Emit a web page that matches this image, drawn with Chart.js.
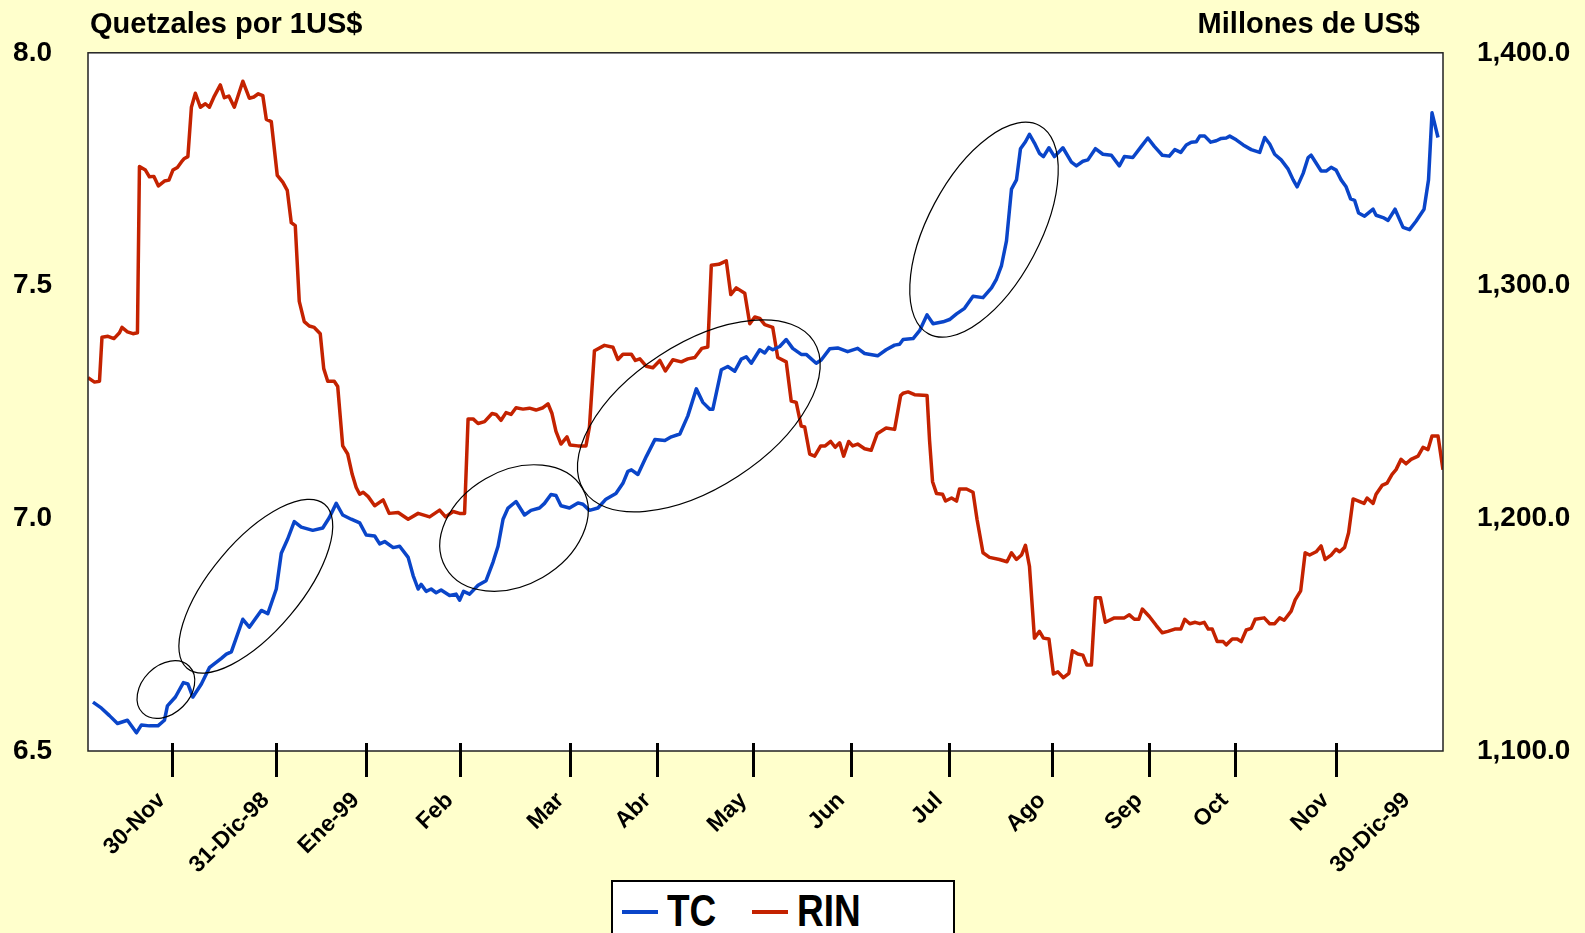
<!DOCTYPE html>
<html lang="es">
<head>
<meta charset="utf-8">
<title>TC y RIN</title>
<script src="https://cdn.jsdelivr.net/npm/chart.js@4.4.1/dist/chart.umd.min.js"></script>
<style>
  html, body { margin: 0; padding: 0; background: #FFFFCC; }
  #wrap { position: relative; width: 1585px; height: 933px; overflow: hidden; }
  #legend {
    position: absolute; left: 611px; top: 880px; width: 344px; height: 70px;
    box-sizing: border-box; background: #fff; border: 2px solid #000;
    font: bold 44px "Liberation Sans", Arial, sans-serif;
    line-height: 58px; color: #000;
  }
  #legend span { position: absolute; top: 0; transform: scaleX(0.84); transform-origin: left center; }
  #legend .swatch { top: 28px; height: 4px; width: 36px; transform: none; }
</style>
</head>
<body>
<div id="wrap">
  <canvas id="chart" width="1585" height="933"></canvas>
  <div id="legend">
    <span class="swatch" style="left:9px;background:#0A45C9"></span>
    <span style="left:54px">TC</span>
    <span class="swatch" style="left:139px;background:#C42200"></span>
    <span style="left:184px">RIN</span>
  </div>
</div>
<script>
// dias habiles desde inicio de nov-98 (eje x lineal)
const tcDays = [1.0, 2.7, 4.3, 5.9, 7.9, 9.7, 10.7, 12.3, 14.0, 15.3, 15.9, 17.5, 19.1, 20.0, 21.0, 22.7, 24.3, 26.7, 27.7, 28.7,
  31.0, 32.3, 33.3, 34.7, 36.0, 37.7, 38.7, 40.0, 41.3, 42.7, 45.0, 47.0, 48.3, 49.7, 51.0, 52.7, 54.4,
  55.7, 57.4, 58.4, 59.4, 61.1, 62.4, 64.1, 65.1, 66.1, 66.7, 67.7, 68.7, 69.7, 70.7, 72.4, 73.7, 74.4, 75.2, 76.4, 78.1,
  79.7, 81.1, 82.1, 83.1, 84.1, 85.7, 87.4, 88.7, 90.4, 91.4, 92.7, 93.7, 94.7, 96.4, 98.1, 99.1, 100.4, 102.1, 103.7,
  105.7, 107.1, 108.1, 108.8, 110.1, 111.8, 113.5, 115.5, 116.8, 118.5, 120.1, 121.8, 123.1, 124.5, 125.1, 126.8, 128.1,
  129.5, 130.8, 131.8, 132.8, 134.5, 135.5, 136.3, 137.1, 138.5, 139.8, 141.1, 142.8, 143.8, 145.8, 146.8, 148.5, 150.1,
  152.1, 154.1, 155.5, 158.1, 159.8, 161.5, 162.5, 163.2, 165.2, 166.5, 168.0, 169.2, 171.2, 172.5, 173.9, 175.5, 177.2,
  179.2, 180.9, 181.9, 182.9, 183.9, 184.9, 185.9, 186.7, 187.7, 188.5, 189.5, 190.5, 191.3, 192.4, 193.5, 195.2, 196.9,
  197.9, 199.2, 200.2, 201.7, 203.2, 204.9, 206.5, 207.5, 209.2, 210.9, 212.2, 213.5, 215.1, 216.5, 217.6, 218.8, 219.9,
  220.9, 221.9, 222.6, 223.6, 224.8, 225.9, 226.9, 227.9, 228.6, 229.9, 231.3, 232.9, 234.6, 235.6, 236.6, 237.6, 238.9,
  240.3, 241.3, 242.1, 243.3, 244.3, 244.9, 246.9, 247.9, 248.9, 249.9, 250.9, 251.9, 252.8, 253.6, 254.4, 255.6, 257.3,
  257.9, 259.3, 260.3, 261.7, 263.3, 264.6, 265.9, 267.5, 268.4, 269.1, 270.3];
const tcValues = [6.605, 6.592, 6.576, 6.559, 6.566, 6.539, 6.556, 6.554, 6.554, 6.566, 6.597, 6.616, 6.647, 6.644, 6.616, 6.644, 6.679, 6.699, 6.708, 6.713,
  6.783, 6.766, 6.781, 6.802, 6.795, 6.848, 6.925, 6.956, 6.993, 6.981, 6.974, 6.979, 7.001, 7.032, 7.007, 6.998, 6.990,
  6.964, 6.962, 6.945, 6.950, 6.937, 6.940, 6.916, 6.877, 6.848, 6.858, 6.843, 6.848, 6.840, 6.846, 6.834, 6.837, 6.824, 6.843, 6.837, 6.856,
  6.866, 6.906, 6.940, 6.998, 7.022, 7.036, 7.007, 7.017, 7.022, 7.032, 7.051, 7.049, 7.027, 7.022, 7.033, 7.030, 7.017, 7.022, 7.041,
  7.053, 7.075, 7.101, 7.104, 7.094, 7.133, 7.169, 7.167, 7.175, 7.181, 7.220, 7.278, 7.249, 7.234, 7.234, 7.319, 7.326,
  7.316, 7.342, 7.347, 7.333, 7.362, 7.355, 7.367, 7.362, 7.369, 7.384, 7.365, 7.352, 7.352, 7.333, 7.340, 7.364, 7.366,
  7.358, 7.365, 7.354, 7.349, 7.362, 7.372, 7.374, 7.384, 7.386, 7.403, 7.437, 7.418, 7.422, 7.427, 7.439, 7.451, 7.477,
  7.474, 7.495, 7.514, 7.543, 7.596, 7.707, 7.727, 7.794, 7.809, 7.825, 7.806, 7.784, 7.777, 7.796, 7.777, 7.796, 7.765,
  7.757, 7.767, 7.770, 7.794, 7.782, 7.780, 7.757, 7.777, 7.775, 7.799, 7.817, 7.799, 7.780, 7.778, 7.792, 7.786, 7.802,
  7.808, 7.809, 7.821, 7.821, 7.808, 7.811, 7.816, 7.817, 7.821, 7.813, 7.802, 7.792, 7.786, 7.818, 7.804, 7.782, 7.770,
  7.750, 7.727, 7.712, 7.741, 7.775, 7.780, 7.746, 7.746, 7.754, 7.748, 7.727, 7.712, 7.686, 7.683, 7.656, 7.649, 7.664,
  7.651, 7.646, 7.640, 7.664, 7.625, 7.620, 7.638, 7.664, 7.727, 7.871, 7.818];

const rinDays = [0, 1.3, 2.3, 2.8, 4.0, 5.2, 6.3, 6.8, 7.9, 9.0, 9.9, 10.3, 11.5, 12.3, 13.2, 14.1, 15.3, 16.2, 17.0, 17.9,
  18.7, 19.3, 20.0, 20.7, 21.5, 22.5, 23.5, 24.3, 25.3, 26.5, 27.3, 28.2, 29.3, 31.0, 32.3, 33.2, 34.1, 35.0, 35.7, 36.7,
  37.9, 39.0, 39.9, 40.7, 41.5, 42.3, 43.3, 44.3, 45.3, 46.5, 47.2, 48.0, 49.3, 50.0, 51.0, 52.0, 52.9, 53.7, 54.4,
  55.1, 56.1, 57.4, 59.1, 60.3, 62.1, 64.1, 66.1, 68.4, 70.4, 71.6, 73.1, 74.4, 75.4, 76.1, 77.1, 78.1, 79.4, 80.9, 81.7,
  82.7, 83.7, 84.7, 85.7, 87.1, 88.4, 89.7, 91.1, 92.1, 92.9, 93.7, 94.7, 95.9, 96.5, 98.1, 99.7, 100.4, 101.4, 103.4,
  105.1, 106.1, 107.1, 108.8, 109.6, 110.5, 111.8, 113.1, 114.5, 115.6, 117.1, 118.8, 120.1, 121.5, 122.9, 124.1, 124.8,
  126.3, 127.8, 128.7, 129.8, 131.5, 132.5, 133.5, 134.5, 135.5, 137.1, 138.1, 139.8, 140.8, 141.8, 142.8, 143.5, 144.5,
  145.5, 146.7, 147.6, 148.7, 149.6, 150.5, 151.3, 152.3, 153.1, 154.1, 155.5, 156.8, 158.0, 159.8, 161.5, 162.7, 163.2,
  164.2, 165.5, 168.0, 168.5, 169.1, 169.9, 171.1, 171.7, 172.9, 173.9, 174.5, 175.9, 177.2, 178.0, 179.2, 180.5, 182.5,
  184.0, 184.9, 185.9, 186.9, 187.7, 188.5, 189.5, 190.5, 191.3, 192.4, 193.3, 194.2, 195.3, 196.4, 197.1, 198.2, 199.2,
  200.0, 200.9, 201.7, 202.7, 203.7, 205.5, 207.5, 208.5, 209.5, 210.4, 211.1, 212.5, 213.9, 215.1, 216.2, 217.6, 218.8,
  219.6, 220.6, 221.7, 222.6, 223.5, 224.3, 225.1, 226.1, 227.3, 227.9, 229.1, 230.1, 230.9, 231.9, 232.9, 233.7, 235.5,
  236.6, 237.6, 238.6, 239.5, 240.9, 241.7, 242.8, 243.7, 244.6, 245.9, 246.9, 247.7, 248.9, 249.9, 250.6, 251.6, 252.4,
  253.3, 254.4, 255.5, 256.1, 257.3, 257.9, 259.1, 260.1, 261.1, 261.9, 262.9, 263.9, 264.9, 266.3, 267.3, 268.3, 269.1,
  270.3, 271.3];
const rinValues = [1260.4, 1258.5, 1258.9, 1277.8, 1278.2, 1277.2, 1279.7, 1282.0, 1280.1, 1279.3, 1279.7, 1351.1, 1349.6, 1346.7, 1346.9, 1342.8, 1344.9, 1345.3, 1349.6, 1350.7,
  1353.1, 1354.6, 1355.4, 1376.6, 1382.6, 1376.6, 1378.1, 1376.6, 1381.4, 1386.2, 1380.7, 1381.4, 1376.6, 1387.8, 1380.5, 1381.0, 1382.4, 1381.6, 1371.4, 1370.4,
  1347.3, 1344.4, 1340.9, 1327.0, 1325.7, 1293.2, 1284.5, 1282.6, 1282.0, 1279.3, 1264.3, 1258.9, 1258.9, 1256.6, 1231.1, 1227.6, 1218.9, 1213.2, 1210.3,
  1211.2, 1209.3, 1205.4, 1207.9, 1202.1, 1202.5, 1199.6, 1202.1, 1200.6, 1203.5, 1200.6, 1202.9, 1202.1, 1202.1, 1242.7, 1242.7, 1240.7, 1241.5, 1245.0, 1244.6,
  1242.1, 1245.4, 1244.6, 1247.5, 1246.9, 1247.3, 1246.5, 1247.5, 1249.2, 1245.0, 1237.3, 1231.9, 1235.0, 1231.5, 1231.1, 1231.1, 1239.2, 1272.0, 1274.3,
  1273.5, 1268.2, 1270.5, 1270.5, 1267.8, 1268.5, 1265.3, 1264.7, 1267.8, 1263.3, 1268.1, 1267.2, 1268.5, 1269.1, 1273.0, 1273.6, 1308.7,
  1309.1, 1310.6, 1296.1, 1299.0, 1296.7, 1283.6, 1286.5, 1285.9, 1283.2, 1282.0, 1269.1, 1267.2, 1250.4, 1249.8, 1239.6, 1239.2, 1227.6,
  1226.7, 1231.1, 1231.1, 1233.0, 1230.5, 1232.4, 1226.7, 1233.0, 1231.1, 1231.9, 1229.9, 1229.2, 1236.3, 1238.8, 1238.2, 1252.7, 1253.7,
  1254.3, 1253.1, 1252.7, 1233.4, 1215.7, 1210.6, 1210.3, 1207.4, 1208.7, 1207.4, 1212.6, 1212.6, 1211.2, 1199.6, 1185.2, 1183.2, 1182.3,
  1181.3, 1185.2, 1182.3, 1184.2, 1188.4, 1179.4, 1148.5, 1151.4, 1148.5, 1148.1, 1133.1, 1134.0, 1131.5, 1133.4, 1143.1, 1141.7, 1141.2,
  1136.9, 1136.9, 1165.9, 1165.9, 1155.3, 1157.2, 1157.2, 1158.5, 1156.6, 1156.6, 1161.0, 1157.8, 1153.9, 1150.8, 1151.4, 1152.4, 1152.4,
  1156.6, 1154.7, 1155.3, 1154.7, 1155.3, 1152.4, 1152.4, 1147.0, 1147.0, 1145.6, 1148.1, 1148.1, 1147.0, 1152.0, 1152.7, 1156.6, 1157.2,
  1154.7, 1154.7, 1157.2, 1156.2, 1160.1, 1164.9, 1168.8, 1185.2, 1184.2, 1185.6, 1188.1, 1182.3, 1184.2, 1186.7, 1185.6, 1187.5, 1193.8,
  1208.3, 1207.4, 1206.4, 1208.7, 1206.4, 1210.3, 1214.1, 1215.1, 1218.9, 1220.9, 1225.3, 1223.4, 1225.3, 1226.7, 1230.5, 1229.5, 1235.3,
  1235.3, 1220.9];

// eje x: posiciones de las etiquetas (la ultima no lleva marca)
const tickDays = [16.8, 37.6, 55.6, 74.4, 96.6, 114, 133.2, 152.8, 172.4, 193, 212.4, 229.6, 249.8, 266];
const tickLabels = ['30-Nov', '31-Dic-98', 'Ene-99', 'Feb', 'Mar', 'Abr', 'May', 'Jun', 'Jul', 'Ago', 'Sep', 'Oct', 'Nov', '30-Dic-99'];
const tickMarks = [true, true, true, true, true, true, true, true, true, true, true, true, true, false];

// elipses dibujadas a mano sobre la serie TC (centro en dia / quetzales)
const circled = [
  { day: 15.6, tc: 6.632, rx: 33, ry: 24, angle: -45 },
  { day: 33.6, tc: 6.854, rx: 107, ry: 45, angle: -50 },
  { day: 85.3, tc: 6.979, rx: 79, ry: 57, angle: -30 },
  { day: 122.3, tc: 7.220, rx: 137, ry: 72, angle: -33 },
  { day: 179.4, tc: 7.620, rx: 118, ry: 56, angle: -62 }
];

const FONT = '"Liberation Sans", Arial, sans-serif';

function toPoints(days, values) {
  return days.map((d, i) => ({ x: d, y: values[i] }));
}

const decorations = {
  id: 'decorations',
  beforeDraw(chart) {
    const { ctx, chartArea: a } = chart;
    ctx.save();
    ctx.fillStyle = '#FFFFCC';
    ctx.fillRect(0, 0, chart.width, chart.height);
    ctx.fillStyle = '#FFFFFF';
    ctx.fillRect(a.left, a.top, a.right - a.left, a.bottom - a.top);
    ctx.restore();
  },
  afterDatasetsDraw(chart) {
    const { ctx, chartArea: a, scales } = chart;
    ctx.save();
    // elipses
    ctx.strokeStyle = '#000';
    ctx.lineWidth = 1.2;
    circled.forEach(e => {
      ctx.beginPath();
      ctx.ellipse(scales.x.getPixelForValue(e.day), scales.y.getPixelForValue(e.tc),
        e.rx, e.ry, e.angle * Math.PI / 180, 0, Math.PI * 2);
      ctx.stroke();
    });
    // marco del area de graficado
    ctx.strokeStyle = '#222';
    ctx.lineWidth = 1.5;
    ctx.strokeRect(a.left, a.top, a.right - a.left, a.bottom - a.top);
    // marcas del eje x (cruzan el eje)
    ctx.lineWidth = 3;
    ctx.strokeStyle = '#000';
    tickDays.forEach((d, i) => {
      if (!tickMarks[i]) return;
      const x = Math.round(scales.x.getPixelForValue(d)) + 0.5;
      ctx.beginPath();
      ctx.moveTo(x, a.bottom - 8);
      ctx.lineTo(x, a.bottom + 26);
      ctx.stroke();
    });
    ctx.restore();
  },
  afterDraw(chart) {
    const { ctx, chartArea: a } = chart;
    ctx.save();
    ctx.fillStyle = '#000';
    ctx.font = 'bold 29px ' + FONT;
    ctx.textBaseline = 'alphabetic';
    ctx.textAlign = 'left';
    ctx.fillText('Quetzales por 1US$', a.left + 2, 33);
    ctx.textAlign = 'right';
    ctx.fillText('Millones de US$', a.right - 23, 33);
    ctx.restore();
  }
};

new Chart(document.getElementById('chart'), {
  type: 'line',
  data: {
    datasets: [
      { label: 'TC', data: toPoints(tcDays, tcValues), yAxisID: 'y', borderColor: '#0A45C9', borderWidth: 3.5 },
      { label: 'RIN', data: toPoints(rinDays, rinValues), yAxisID: 'y1', borderColor: '#C42200', borderWidth: 3.5 }
    ]
  },
  options: {
    responsive: false,
    animation: false,
    events: [],
    layout: { padding: { top: 48, left: 0, right: 0, bottom: 0 } },
    elements: { point: { radius: 0 }, line: { tension: 0, borderJoinStyle: 'round' } },
    plugins: { legend: { display: false }, tooltip: { enabled: false } },
    scales: {
      x: {
        type: 'linear',
        min: 0,
        max: 271.3,
        grid: { display: false, drawTicks: false },
        border: { display: false },
        afterBuildTicks: axis => { axis.ticks = tickDays.map(v => ({ value: v })); },
        afterFit: axis => { axis.height = 182; },
        ticks: {
          autoSkip: false,
          minRotation: 45,
          maxRotation: 45,
          padding: 36,
          labelOffset: -10,
          color: '#000',
          font: { family: FONT, size: 23, weight: 'bold' },
          callback: (value, index) => tickLabels[index]
        }
      },
      y: {
        position: 'left',
        min: 6.5,
        max: 8.0,
        grid: { display: false, drawTicks: false },
        border: { display: false },
        afterFit: axis => { axis.width = 88; },
        ticks: {
          stepSize: 0.5,
          padding: 36,
          color: '#000',
          font: { family: FONT, size: 28, weight: 'bold' },
          callback: v => v.toFixed(1)
        }
      },
      y1: {
        position: 'right',
        min: 1100,
        max: 1400,
        grid: { display: false, drawTicks: false },
        border: { display: false },
        afterFit: axis => { axis.width = 142; },
        ticks: {
          stepSize: 100,
          padding: 34,
          color: '#000',
          font: { family: FONT, size: 28, weight: 'bold' },
          callback: v => v.toLocaleString('en-US', { minimumFractionDigits: 1, maximumFractionDigits: 1 })
        }
      }
    }
  },
  plugins: [decorations]
});
</script>
</body>
</html>
